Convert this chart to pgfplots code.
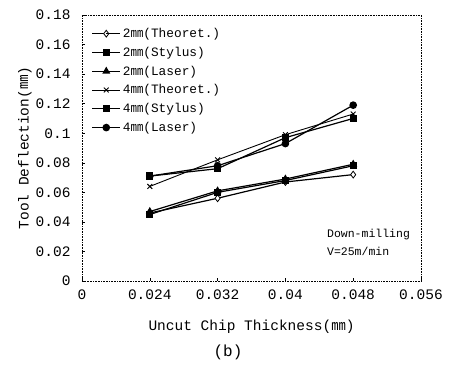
\documentclass[border=0pt]{standalone}
\usepackage{pgfplots}
\pgfplotsset{compat=1.18}
\usepackage{fontspec}
\setmainfont{Liberation Mono}
\newfontfamily\cjk{Noto Sans CJK KR}
\newcommand{\mmu}{{\cjk ㎜}}
\begin{document}
\begin{tikzpicture}[x=1pt,y=1pt]
\begin{axis}[
  at={(0,0)}, anchor=south west,
  width=339pt, height=266pt, scale only axis,
  xmin=0.016, xmax=0.056, ymin=0, ymax=0.18,
  scaled ticks=false,
  xtick={0.016,0.024,0.032,0.04,0.048,0.056},
  ytick={0,0.02,0.04,0.06,0.08,0.1,0.12,0.14,0.16,0.18},
  xticklabels={0,0.024,0.032,0.04,0.048,0.056},
  yticklabels={0,0.02,0.04,0.06,0.08,0.1,0.12,0.14,0.16,0.18},
  tick align=inside, xtick pos=bottom, ytick pos=left,
  major tick length=3pt,
  tick style={black, thin},
  axis line style={densely dotted, semithick, black},
  ticklabel style={font=\fontsize{14.5}{16}\selectfont},
  xticklabel style={yshift=-5pt},
  yticklabel style={xshift=-8pt},
  label style={font=\fontsize{14.5}{16}\selectfont},
  xlabel={Uncut Chip Thickness(\mmu)},
  ylabel={Tool Deflection(\mmu)},
  xlabel style={at={(axis description cs:0.5,0)}, anchor=center, yshift=-46pt},
  ylabel style={at={(axis description cs:0,0.5)}, anchor=center, yshift=57pt},
  legend style={draw=none, fill=none, at={(rel axis cs:0.025,0.962)}, anchor=north west,
    font=\fontsize{12.8}{14}\selectfont, row sep=4pt, inner sep=1pt},
  legend cell align=left,
  legend image code/.code={\draw[#1] (0pt,0pt) -- (14pt,0pt); \draw[#1] plot coordinates {(14pt,0pt)}; \draw[#1] (14pt,0pt) -- (28pt,0pt);},
  every axis plot/.append style={black, line width=1.2pt},
]
\addplot[mark=diamond*, mark options={fill=white, line width=0.8pt}, mark size=3.4pt] coordinates {(0.024,0.046) (0.032,0.056) (0.04,0.067) (0.048,0.072)};
\addlegendentry{2\mmu(Theoret.)}
\addplot[mark=square*, mark size=3pt] coordinates {(0.024,0.045) (0.032,0.060) (0.04,0.068) (0.048,0.078)};
\addlegendentry{2\mmu(Stylus)}
\addplot[mark=triangle*, mark size=3.4pt] coordinates {(0.024,0.047) (0.032,0.061) (0.04,0.069) (0.048,0.079)};
\addlegendentry{2\mmu(Laser)}
\addplot[mark=x, mark size=3.4pt, mark options={line width=0.9pt}, line width=0.9pt] coordinates {(0.024,0.064) (0.032,0.082) (0.04,0.099) (0.048,0.113)};
\addlegendentry{4\mmu(Theoret.)}
\addplot[mark=square*, mark size=3pt] coordinates {(0.024,0.071) (0.032,0.076) (0.04,0.097) (0.048,0.110)};
\addlegendentry{4\mmu(Stylus)}
\addplot[mark=*, mark size=3.2pt] coordinates {(0.024,0.071) (0.032,0.078) (0.04,0.093) (0.048,0.119)};
\addlegendentry{4\mmu(Laser)}
\node[anchor=north west, align=left, font=\fontsize{11.5}{18}\selectfont, inner sep=0pt] at (axis cs:0.0449,0.0355) {Down-milling\\V=25m/min};
\end{axis}
\node[font=\fontsize{16}{18}\selectfont] at (146pt,-71pt) {(b)};
\path[use as bounding box] (-82pt,-87pt) rectangle (373pt,281pt);
\end{tikzpicture}
\end{document}
